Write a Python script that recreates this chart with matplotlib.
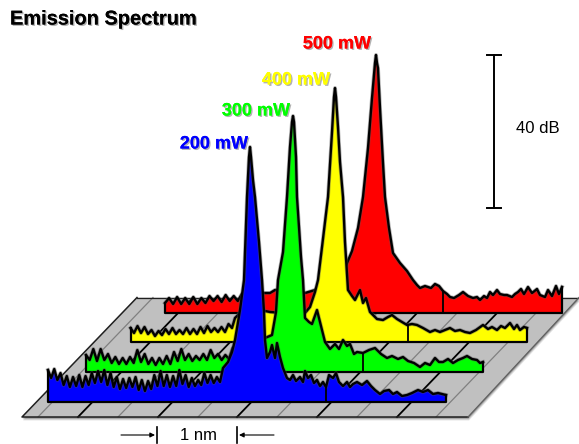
import numpy as np
import matplotlib
matplotlib.use('Agg')
import matplotlib.pyplot as plt
from matplotlib.patches import Polygon
import matplotlib.patheffects as pe

plt.rcParams['font.family'] = ['Liberation Sans', 'DejaVu Sans']

blue_comb = [32, 24, 33, 22, 29, 17, 26, 15, 25, 16, 27, 15, 26, 17, 29, 19, 31, 20, 32, 17, 29, 15, 25, 13, 23, 14,
             24, 15, 25, 12, 22, 11, 21, 13, 27, 16, 31, 16, 27, 15, 26, 16, 32, 18, 27, 15, 24, 16, 22, 17, 29, 19,
             27, 19, 25, 20]
blue_x = [223, 228, 232, 235, 240, 244, 247, 249, 250, 251, 253, 255, 259, 262, 264, 265, 267, 270, 272, 275, 277, 280,
          283, 287, 290, 293, 296, 300, 303, 305, 308, 311, 314, 317, 320, 323, 326, 329, 333, 336, 339, 343, 347, 350,
          353, 357, 362, 367, 371, 375, 380, 384, 389, 393, 397, 402, 407, 412, 418, 423, 428, 433, 438, 442, 446]
blue_y = [34, 40, 50, 62, 92, 122, 205, 245, 255, 245, 222, 205, 160, 122, 90, 62, 44, 50, 57, 44, 59, 45,
          34, 24, 22, 27, 21, 25, 20, 31, 24, 27, 19, 22, 16, 20, 15, 27, 24, 29, 20, 16, 20, 15,
          18, 20, 17, 21, 16, 12, 8, 11, 12, 8, 10, 6, 7, 9, 12, 10, 12, 8, 9, 8, 7]

green_comb = [17, 12, 23, 11, 23, 12, 18, 9, 15, 8, 14, 8, 15, 9, 22, 10, 18, 8, 14, 7, 14, 8, 16, 8, 20, 11, 23, 12,
              18, 11, 16, 12, 18, 12, 22, 14, 18, 12, 17, 13, 24, 15, 22]
green_x = [245, 262, 265, 272, 276, 278, 283, 287, 290, 292, 293, 294, 296, 297, 299, 301, 303, 305, 309, 312, 317, 320,
           322, 325, 330, 335, 339, 343, 347, 350, 354, 357, 363, 369, 375, 381, 387, 392, 398, 403, 408, 414, 420, 425,
           430, 435, 439, 443, 448, 453, 458, 463, 467, 472, 477, 480, 483]
green_y = [30, 34, 34, 37, 60, 92, 120, 175, 225, 250, 256, 250, 215, 175, 145, 115, 92, 54, 50, 48, 62, 50,
           42, 30, 23, 28, 23, 32, 26, 28, 18, 20, 19, 22, 24, 18, 14, 16, 13, 15, 11, 9, 5, 9,
           7, 14, 10, 10, 13, 9, 12, 14, 16, 13, 12, 9, 10]

yellow_comb = [14, 9, 16, 9, 15, 8, 12, 6, 11, 7, 13, 8, 14, 8, 12, 8, 14, 8, 13, 8, 15, 9, 16, 10, 14, 10, 15, 10, 18, 14]
yellow_x = [235, 240, 250, 270, 295, 305, 310, 315, 318, 322, 328, 332, 334, 335, 336, 338, 340, 343, 345, 348, 352, 355,
            360, 363, 366, 370, 373, 377, 383, 388, 392, 397, 402, 407, 412, 417, 423, 430, 435, 440, 445, 450, 455, 460,
            465, 470, 476, 483, 488, 492, 497, 501, 505, 510, 514, 517, 520, 524, 527]
yellow_y = [24, 29, 34, 30, 28, 29, 35, 50, 62, 95, 145, 210, 245, 254, 245, 215, 180, 145, 100, 52, 46, 42,
            52, 39, 44, 30, 27, 23, 22, 25, 27, 23, 20, 17, 18, 17, 14, 10, 12, 10, 12, 14, 11, 12,
            10, 9, 12, 17, 13, 15, 12, 16, 14, 19, 13, 17, 12, 15, 14]

red_comb = [10, 15, 9, 16, 9, 15, 9, 16, 9, 15, 10, 17, 12, 17, 11, 18, 12, 17, 12, 19, 13, 19, 15, 19]
red_x = [262, 270, 275, 290, 305, 315, 325, 335, 345, 352, 358, 363, 368, 372, 375, 376, 377, 378, 380, 383, 385, 389,
         393, 400, 407, 413, 417, 420, 425, 431, 435, 439, 443, 447, 450, 454, 459, 463, 468, 473, 477, 480, 484, 487,
         490, 493, 497, 500, 504, 507, 512, 515, 518, 521, 524, 528, 532, 537, 540, 545, 548, 552, 556, 559, 562]
red_y = [20, 20, 23, 22, 20, 23, 32, 38, 45, 62, 85, 116, 165, 215, 250, 258, 250, 245, 205, 150, 116, 85,
         60, 50, 42, 33, 28, 25, 27, 25, 29, 27, 22, 19, 16, 15, 18, 21, 17, 15, 16, 13, 17, 15,
         21, 18, 23, 19, 18, 18, 16, 19, 21, 24, 19, 26, 20, 24, 18, 16, 23, 17, 27, 19, 26]

powers = ['200 mW', '300 mW', '400 mW', '500 mW']
colors = ['#0000ff', '#00ff00', '#ffff00', '#ff0000']
baselines = [402, 372, 342, 313]
markers = [326, 363, 408, 443]
combs = [blue_comb, green_comb, yellow_comb, red_comb]
comb_spans = [(48, 220), (86, 240), (130.5, 232), (165, 258)]
traces = [(blue_x, blue_y), (green_x, green_y), (yellow_x, yellow_y), (red_x, red_y)]
label_pos = [(214, 144), (256, 111), (296, 80), (337, 44)]

dark_feet = [78, 158, 237, 317, 397]
light_feet = [38, 118, 198, 277, 357, 436]

fig = plt.figure(figsize=(5.79, 4.44), dpi=100)
ax = fig.add_axes([0, 0, 1, 1])
ax.set_xlim(0, 579)
ax.set_ylim(444, 0)
ax.axis('off')

# floor with soft shadow
floor = np.array([[22, 417], [468, 417], [579, 297.5], [137, 297.5]])
for off, a in [(3.5, .10), (2.5, .15), (1.5, .25)]:
    ax.add_patch(Polygon(floor + [off * .3, off], closed=True, fc='k', ec='none', alpha=a, zorder=1))
ax.add_patch(Polygon(floor, closed=True, fc='#c0c0c0', ec='none', zorder=2))
slope = (137 - 22) / (417 - 297.5)
for x0 in light_feet:
    x1 = min(x0 + slope * 119.5, 579)
    ax.plot([x0, x1], [417, 417 - (x1 - x0) / slope], color='#808080', lw=.9, zorder=3)
for x0 in dark_feet:
    x1 = min(x0 + slope * 119.5, 579)
    ax.plot([x0, x1], [417, 417 - (x1 - x0) / slope], color='k', lw=1.3, zorder=3)
ax.plot([137, 579], [297.5, 297.5], color='#202020', lw=.9, zorder=4)
ax.plot([137, 22, 468], [297.5, 417, 417], color='#202020', lw=1.1, zorder=4)
ax.plot([468, 579], [417, 297.5], color='#606060', lw=.9, zorder=4)

# back to front
for i in [3, 2, 1, 0]:
    start, end = comb_spans[i]
    x = np.concatenate([np.linspace(start, end, len(combs[i])), traces[i][0]])
    h = np.concatenate([combs[i], traces[i][1]]).astype(float)
    y = baselines[i] - h
    z = 10 + (3 - i) * 2
    ax.fill(np.r_[x[0], x, x[-1]], np.r_[baselines[i], y, baselines[i]], color=colors[i], lw=0, zorder=z)
    ax.plot(x, y, color='#555555', lw=2.8, alpha=.45, solid_joinstyle='round', zorder=z)
    ax.plot(x, y, color='k', lw=1.7, solid_joinstyle='round', zorder=z + 1)
    ax.plot([x[0], x[0], x[-1], x[-1]], [y[0], baselines[i], baselines[i], y[-1]], color='k', lw=1.6, zorder=z + 1)
    top = baselines[i] - np.interp(markers[i], x, h)
    ax.plot([markers[i], markers[i]], [baselines[i], top], color='k', lw=1.3, zorder=z + 1)
    ax.text(label_pos[i][0], label_pos[i][1], powers[i], color=colors[i], fontsize=13, fontweight='bold',
            ha='center', va='center', zorder=30,
            path_effects=[pe.withSimplePatchShadow(offset=(1, -1), shadow_rgbFace='k', alpha=.3), pe.Normal()])

ax.text(10, 19, 'Emission Spectrum', color='k', fontsize=14.4, fontweight='bold', ha='left', va='center',
        path_effects=[pe.withSimplePatchShadow(offset=(1, -1), shadow_rgbFace='k', alpha=.3), pe.Normal()])

# 40 dB bar
ax.plot([494, 494], [55, 208], color='k', lw=1.4)
ax.plot([487, 501], [55, 55], color='k', lw=1.4)
ax.plot([487, 501], [208, 208], color='k', lw=1.4)
ax.text(538, 128, '40 dB', color='k', fontsize=12, ha='center', va='center')

# 1 nm marker
ax.plot([157, 157], [427, 443], color='k', lw=1.2)
ax.plot([237, 237], [427, 443], color='k', lw=1.2)
arrow = dict(arrowstyle='-|>', color='k', lw=.8, mutation_scale=7, shrinkA=0, shrinkB=0)
ax.annotate('', xy=(155, 435), xytext=(121, 435), arrowprops=arrow)
ax.annotate('', xy=(239, 435), xytext=(274, 435), arrowprops=arrow)
ax.text(198, 435, '1 nm', color='k', fontsize=12, ha='center', va='center')

fig.savefig('out.png', dpi=100)
